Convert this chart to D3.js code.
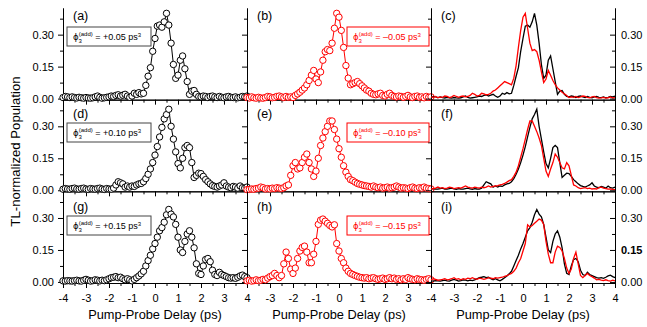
<!DOCTYPE html>
<html>
<head>
<meta charset="utf-8">
<script src="https://cdn.jsdelivr.net/npm/d3@7"></script>
<style>
  body { margin: 0; background: #fff; }
  svg { display: block; font-family: "Liberation Sans", Arial, sans-serif; }
</style>
</head>
<body>
<div id="chart"></div>
<script>
// pump-probe delay grid (ps), 0.1 ps steps from -4 to 4
const delays = d3.range(81).map(i => Math.round((-4 + i * 0.1) * 10) / 10);

// TL-normalized population, one value per delay
const popPlus005 = [
  0.005, 0.010, 0.008, 0.005, 0.008, 0.005, 0.003, 0.006, 0.004, 0.002,
  0.005, 0.003, 0.002, 0.004, 0.008, 0.012, 0.006, 0.002, 0.004, 0.006,
  0.008, 0.012, 0.010, 0.015, 0.018, 0.012, 0.016, 0.020, 0.012, 0.006,
  0.012, 0.025, 0.020, 0.028, 0.022, 0.025, 0.062, 0.105, 0.145, 0.222,
  0.282, 0.340, 0.345, 0.335, 0.360, 0.400, 0.345, 0.260, 0.160, 0.095,
  0.110, 0.180, 0.200, 0.140, 0.080, 0.020, 0.035, 0.038, 0.020, 0.010,
  0.008, 0.012, 0.010, 0.005, 0.010, 0.012, 0.008, 0.005, 0.010, 0.006,
  0.004, 0.008, 0.010, 0.006, 0.005, 0.008, 0.004, 0.006, 0.010, 0.008,
  0.012
];
const popMinus005 = [
  0.005, 0.003, 0.008, 0.004, 0.002, 0.006, 0.003, 0.002, 0.005, 0.010,
  0.008, 0.004, 0.006, 0.010, 0.012, 0.008, 0.005, 0.010, 0.006, 0.008,
  0.005, 0.015, 0.022, 0.030, 0.040, 0.050, 0.065, 0.085, 0.110, 0.132,
  0.092, 0.075, 0.125, 0.180, 0.220, 0.230, 0.225, 0.260, 0.330, 0.400,
  0.382, 0.320, 0.240, 0.155, 0.096, 0.065, 0.070, 0.075, 0.080, 0.070,
  0.060, 0.050, 0.040, 0.035, 0.025, 0.020, 0.018, 0.022, 0.025, 0.015,
  0.012, 0.020, 0.025, 0.015, 0.010, 0.008, 0.012, 0.010, 0.006, 0.010,
  0.015, 0.008, 0.005, 0.010, 0.012, 0.006, 0.008, 0.004, 0.010, 0.006,
  0.008
];
const popPlus010 = [
  0.005, 0.008, 0.006, 0.005, 0.008, 0.010, 0.006, 0.005, 0.008, 0.010,
  0.006, 0.004, 0.008, 0.006, 0.005, 0.008, 0.010, 0.006, 0.004, 0.008,
  0.006, 0.005, 0.010, 0.025, 0.040, 0.035, 0.030, 0.015, 0.020, 0.015,
  0.020, 0.018, 0.025, 0.030, 0.032, 0.040, 0.055, 0.075, 0.100, 0.130,
  0.165, 0.205, 0.250, 0.295, 0.335, 0.355, 0.380, 0.300, 0.240, 0.180,
  0.125, 0.105, 0.150, 0.200, 0.210, 0.200, 0.130, 0.060, 0.070, 0.080,
  0.078, 0.065, 0.050, 0.040, 0.030, 0.022, 0.018, 0.015, 0.020, 0.025,
  0.035, 0.020, 0.015, 0.012, 0.018, 0.015, 0.010, 0.020, 0.012, 0.010,
  0.015
];
const popMinus010 = [
  0.003, 0.004, 0.006, 0.005, 0.008, 0.010, 0.015, 0.012, 0.006, 0.008,
  0.006, 0.010, 0.008, 0.012, 0.010, 0.008, 0.012, 0.020, 0.025, 0.070,
  0.115, 0.130, 0.100, 0.105, 0.130, 0.155, 0.170, 0.130, 0.100, 0.065,
  0.090, 0.150, 0.210, 0.245, 0.275, 0.300, 0.325, 0.325, 0.285, 0.240,
  0.195, 0.155, 0.115, 0.085, 0.065, 0.050, 0.045, 0.038, 0.032, 0.028,
  0.025, 0.022, 0.020, 0.018, 0.015, 0.020, 0.015, 0.012, 0.015, 0.010,
  0.012, 0.015, 0.010, 0.012, 0.015, 0.020, 0.015, 0.010, 0.012, 0.010,
  0.008, 0.012, 0.015, 0.010, 0.008, 0.012, 0.010, 0.015, 0.010, 0.008,
  0.006
];
const popPlus015 = [
  0.005, 0.004, 0.006, 0.005, 0.004, 0.006, 0.008, 0.005, 0.004, 0.008,
  0.012, 0.008, 0.004, 0.006, 0.010, 0.008, 0.005, 0.008, 0.006, 0.010,
  0.015, 0.020, 0.022, 0.025, 0.020, 0.022, 0.015, 0.010, 0.015, 0.010,
  0.005, 0.012, 0.020, 0.028, 0.038, 0.050, 0.075, 0.100, 0.125, 0.155,
  0.180, 0.210, 0.240, 0.255, 0.280, 0.315, 0.340, 0.318, 0.305, 0.270,
  0.210, 0.150, 0.138, 0.190, 0.225, 0.240, 0.210, 0.160, 0.085, 0.040,
  0.035, 0.075, 0.105, 0.110, 0.095, 0.055, 0.035, 0.030, 0.045, 0.035,
  0.030, 0.025, 0.020, 0.018, 0.020, 0.017, 0.022, 0.028, 0.032, 0.025,
  0.020
];
const popMinus015 = [
  0.005, 0.008, 0.004, 0.006, 0.010, 0.006, 0.008, 0.012, 0.010, 0.018,
  0.025, 0.030, 0.040, 0.030, 0.020, 0.030, 0.085, 0.140, 0.110, 0.060,
  0.040, 0.065, 0.110, 0.145, 0.162, 0.168, 0.140, 0.090, 0.090, 0.130,
  0.190, 0.270, 0.290, 0.295, 0.285, 0.275, 0.265, 0.258, 0.268, 0.180,
  0.145, 0.110, 0.090, 0.065, 0.050, 0.040, 0.035, 0.030, 0.026, 0.022,
  0.020, 0.018, 0.020, 0.015, 0.018, 0.020, 0.015, 0.012, 0.015, 0.018,
  0.012, 0.015, 0.020, 0.015, 0.018, 0.012, 0.015, 0.010, 0.015, 0.012,
  0.020, 0.015, 0.012, 0.010, 0.015, 0.012, 0.010, 0.008, 0.012, 0.015,
  0.010
];

// labels and ticks
const phiPlus = ['+0.05', '+0.10', '+0.15'];
const phiMinus = ['\u20130.05', '\u20130.10', '\u20130.15'];
const panelLetters = [['(a)', '(b)', '(c)'], ['(d)', '(e)', '(f)'], ['(g)', '(h)', '(i)']];
const xMajor = [-4, -3, -2, -1, 0, 1, 2, 3, 4];
const xMinor = [-3.5, -2.5, -1.5, -0.5, 0.5, 1.5, 2.5, 3.5];
const yMajor = [0, 0.15, 0.30];
const yMinor = [0.075, 0.225, 0.375];

const blackRows = [popPlus005, popPlus010, popPlus015];
const redRows = [popMinus005, popMinus010, popMinus015];

// --- layout ---
const W = 647, H = 327;
const colLeft = [63, 247, 431];
const colWidth = 184;
const plotTop = 8;
const rowHeight = 275 / 3;
const RED = '#ff0000';
const letterBaseline = [19.5, 118, 210.5];
const legendTop = [27, 123, 216];

const svg = d3.select('#chart').append('svg')
  .attr('width', W).attr('height', H);

function xScale(c) {
  return d3.scaleLinear().domain([-4, 4]).range([colLeft[c], colLeft[c] + colWidth]);
}
function yScale(r) {
  return d3.scaleLinear().domain([-0.005, 0.425])
    .range([plotTop + (r + 1) * rowHeight, plotTop + r * rowHeight]);
}

function styleAxis(g) {
  g.attr('font-size', null).attr('font-family', null);
  g.selectAll('path, line').attr('stroke', '#000').attr('stroke-width', 1);
  g.selectAll('text').style('font-size', '11px').attr('fill', '#000');
}

// legend with phi_3^(add) text
function addLegend(x, y, w, color, border, value) {
  svg.append('rect')
    .attr('x', x).attr('y', y).attr('width', w).attr('height', 19)
    .attr('fill', '#fff').attr('stroke', border).attr('stroke-width', 1);
  const t = svg.append('text')
    .attr('x', x + 6).attr('y', y + 13)
    .attr('fill', color).style('font-size', '9px');
  t.append('tspan').style('font-family', '"DejaVu Sans", sans-serif').style('font-size', '8.5px').text('\u03d5');
  t.append('tspan').attr('dy', 2.5).style('font-size', '6px').text('3');
  t.append('tspan').attr('dx', -3.2).attr('dy', -7).style('font-size', '6px').text('(add)');
  t.append('tspan').attr('dy', 4.5).style('font-size', '9px').text(' = ' + value + ' ps');
  t.append('tspan').attr('dy', -3.5).style('font-size', '6px').text('3');
}

for (let r = 0; r < 3; r++) {
  const y = yScale(r);
  const black = delays.map((t, i) => ({ t: t, v: blackRows[r][i] }));
  const red = delays.map((t, i) => ({ t: t, v: redRows[r][i] }));
  // time-reversed negative-chirp trace for the comparison panel
  const redReversed = red.map(d => ({ t: -d.t, v: d.v })).reverse();

  for (let c = 0; c < 3; c++) {
    const x = xScale(c);
    const line = d3.line().x(d => x(d.t)).y(d => y(d.v));

    // bottom axis (ticks outward)
    const gx = svg.append('g').attr('transform', `translate(0,${y.range()[0]})`);
    gx.call(d3.axisBottom(x).tickValues(xMajor).tickSizeInner(5).tickSizeOuter(0).tickPadding(6)
      .tickFormat(d => (r === 2 && !(c === 1 && Math.abs(d) === 4)) ? String(d) : ''));
    styleAxis(gx);
    const gxm = svg.append('g').attr('transform', `translate(0,${y.range()[0]})`);
    gxm.call(d3.axisBottom(x).tickValues(xMinor).tickSizeInner(3).tickSizeOuter(0).tickFormat(''));
    styleAxis(gxm);

    // left axis (ticks outward)
    const gy = svg.append('g').attr('transform', `translate(${colLeft[c]},0)`);
    gy.call(d3.axisLeft(y).tickValues(yMajor).tickSizeInner(5).tickSizeOuter(0).tickPadding(4)
      .tickFormat(c === 0 ? d3.format('.2f') : ''));
    styleAxis(gy);
    const gym = svg.append('g').attr('transform', `translate(${colLeft[c]},0)`);
    gym.call(d3.axisLeft(y).tickValues(yMinor).tickSizeInner(3).tickSizeOuter(0).tickFormat(''));
    styleAxis(gym);

    if (c < 2) {
      const color = c === 0 ? '#000' : RED;
      const pts = c === 0 ? black : red;
      svg.append('path').datum(pts)
        .attr('d', line).attr('fill', 'none')
        .attr('stroke', color).attr('stroke-width', 1);
      svg.append('g').selectAll('circle')
        .data(pts)
        .enter()
        .append('circle')
        .attr('cx', d => x(d.t))
        .attr('cy', d => y(d.v))
        .attr('r', 3.2)
        .attr('fill', '#fff')
        .attr('stroke', color)
        .attr('stroke-width', 1);
    } else {
      svg.append('path').datum(black)
        .attr('d', line).attr('fill', 'none')
        .attr('stroke', '#000').attr('stroke-width', 1.3);
      svg.append('path').datum(redReversed)
        .attr('d', line).attr('fill', 'none')
        .attr('stroke', RED).attr('stroke-width', 1.3);

      // right axis, ticks pointing in, labels outside
      const gr = svg.append('g').attr('transform', `translate(${colLeft[c] + colWidth},0)`);
      gr.call(d3.axisRight(y).tickValues(yMajor).tickSizeInner(-5).tickSizeOuter(0).tickPadding(6)
        .tickFormat(d3.format('.2f')));
      styleAxis(gr);
      if (r === 2) gr.selectAll('text').filter(d => d === 0.15).style('font-weight', 'bold');
      const grm = svg.append('g').attr('transform', `translate(${colLeft[c] + colWidth},0)`);
      grm.call(d3.axisRight(y).tickValues(yMinor).tickSizeInner(-3).tickSizeOuter(0).tickFormat(''));
      styleAxis(grm);
    }

    // panel letter
    svg.append('text')
      .attr('x', colLeft[c] + 10).attr('y', letterBaseline[r])
      .style('font-size', '12.5px')
      .text(panelLetters[r][c]);
  }

  addLegend(67, legendTop[r], 84, '#000', '#444', phiPlus[r]);
  addLegend(347, legendTop[r], 82, RED, RED, phiMinus[r]);
}

// axis titles
for (let c = 0; c < 3; c++) {
  svg.append('text')
    .attr('x', colLeft[c] + colWidth / 2).attr('y', 318.5)
    .attr('text-anchor', 'middle')
    .style('font-size', '12.8px')
    .text('Pump-Probe Delay (ps)');
}
svg.append('text')
  .attr('transform', 'translate(15,151.5) rotate(-90)')
  .attr('text-anchor', 'middle')
  .attr('dominant-baseline', 'central')
  .style('font-size', '13.2px')
  .text('TL-normalized Population');
</script>
</body>
</html>
